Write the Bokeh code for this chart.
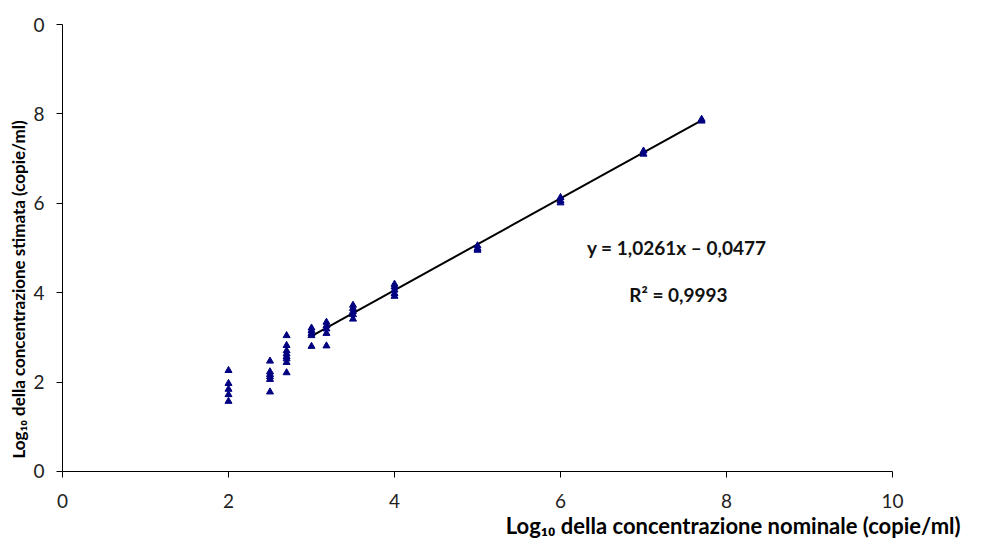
from bokeh.plotting import figure
from bokeh.models import Range1d, Label, FixedTicker, LinearAxis
from bokeh.embed import file_html
from bokeh.resources import INLINE

# Nominal log10 concentrations and estimated log10 concentrations
nominal = (
    [2.0] * 5
    + [2.5] * 6
    + [2.7] * 8
    + [3.0] * 5
    + [3.18] * 5
    + [3.5] * 5
    + [4.0] * 5
    + [5.0] * 3
    + [6.0] * 3
    + [7.0] * 2
    + [7.7] * 2
)
estimated = (
    [2.26, 1.97, 1.84, 1.72, 1.57]
    + [2.47, 2.23, 2.17, 2.12, 2.06, 1.78]
    + [3.04, 2.82, 2.70, 2.63, 2.57, 2.52, 2.44, 2.21]
    + [3.21, 3.15, 3.09, 3.04, 2.80]
    + [3.34, 3.26, 3.19, 3.09, 2.81]
    + [3.72, 3.65, 3.58, 3.51, 3.41]
    + [4.19, 4.13, 4.06, 3.98, 3.92]
    + [5.05, 4.99, 4.95]
    + [6.13, 6.06, 6.01]
    + [7.17, 7.10]
    + [7.88, 7.84]
)

slope = 1.0261
intercept = -0.0477
fit_x = [3.0, 7.7]
fit_y = [slope * v + intercept for v in fit_x]

x_ticks = [0, 2, 4, 6, 8, 10]
y_ticks = [0, 2, 4, 6, 8, 10]
y_tick_labels = {10: "0"}

x_title = "Log\u2081\u2080 della concentrazione nominale (copie/ml)"
y_title = "Log\u2081\u2080 della concentrazione stimata (copie/ml)"
eq_text = "y = 1,0261x \u2013 0,0477"
r2_text = "R\u00b2 = 0,9993"

FONT = "Lato"

# The frame covers the whole canvas; the axes sit at data 0 inside it,
# bounded to 0..10, so the titles can be placed freely around them.
p = figure(
    width=982, height=540,
    x_range=Range1d(-0.747, 11.084), y_range=Range1d(-1.544, 10.537),
    output_backend="svg", toolbar_location=None,
    x_axis_type=None, y_axis_type=None,
    min_border=0,
)
p.outline_line_color = None
p.grid.visible = False
p.background_fill_color = "white"
p.border_fill_color = "white"

xaxis = LinearAxis(ticker=FixedTicker(ticks=x_ticks), fixed_location=0,
                   bounds=(0, 10), major_label_standoff=17)
yaxis = LinearAxis(ticker=FixedTicker(ticks=y_ticks), fixed_location=0,
                   bounds=(0, 10), major_label_standoff=12,
                   major_label_overrides=y_tick_labels)
for ax in (xaxis, yaxis):
    ax.axis_line_color = "black"
    ax.axis_line_width = 1
    ax.major_tick_line_color = "black"
    ax.major_tick_in = 0
    ax.major_tick_out = 6
    ax.minor_tick_line_color = None
    ax.major_label_text_font = FONT
    ax.major_label_text_font_size = "19px"
    ax.major_label_text_color = "#222222"
p.add_layout(xaxis, "below")
p.add_layout(yaxis, "left")

p.line(fit_x, fit_y, line_color="black", line_width=2)
p.scatter(nominal, estimated, marker="triangle", size=7,
          fill_color="#000080", line_color="#000080")

p.add_layout(Label(x=7.40, y=5.01, text=eq_text,
                   text_align="center", text_baseline="middle",
                   text_font=FONT, text_font_style="bold",
                   text_font_size="19px", text_color="#111111"))
p.add_layout(Label(x=7.42, y=3.97, text=r2_text,
                   text_align="center", text_baseline="middle",
                   text_font=FONT, text_font_style="bold",
                   text_font_size="19px", text_color="#111111"))

p.add_layout(Label(x=5.34, y=-1.21, text=x_title,
                   text_align="left", text_baseline="middle",
                   text_font=FONT, text_font_style="bold",
                   text_font_size="22px", text_color="black"))
p.add_layout(Label(x=-0.53, y=0.29, angle=1.5707963, text=y_title,
                   text_align="left", text_baseline="middle",
                   text_font=FONT, text_font_style="bold",
                   text_font_size="17px", text_color="black"))

open("out.html", "w").write(file_html(p, INLINE))
